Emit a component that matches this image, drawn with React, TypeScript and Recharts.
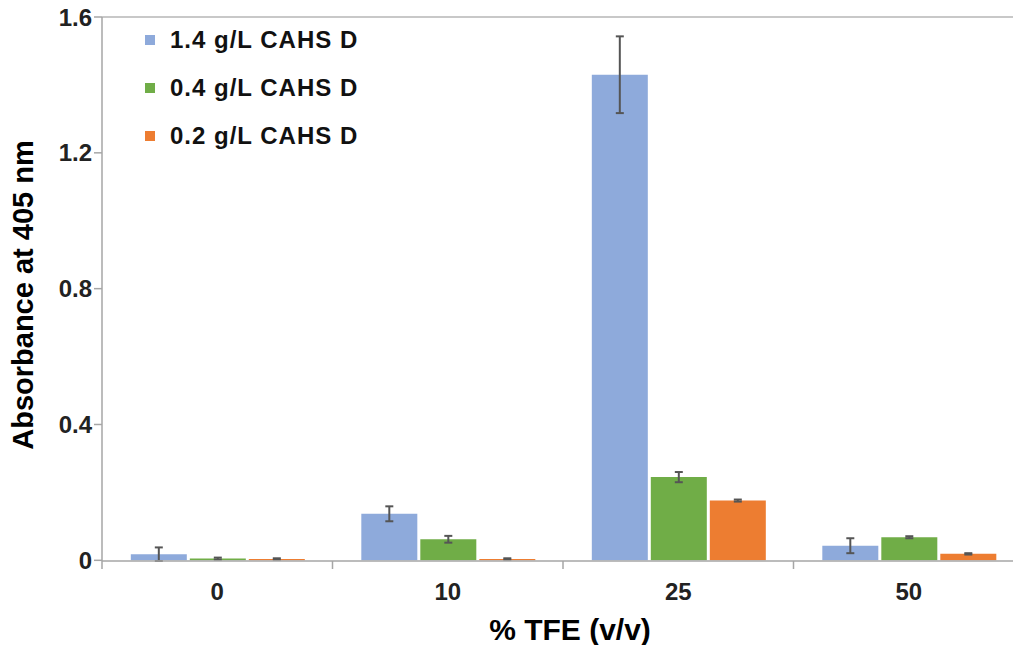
import React from 'react';
import {
  BarChart, Bar, XAxis, YAxis, ErrorBar, ReferenceLine
} from 'recharts';

const categories = ['0', '10', '25', '50'];
const conc14 = [0.018, 0.137, 1.43, 0.043];
const conc14Err = [0.02, 0.022, 0.113, 0.022];
const conc04 = [0.005, 0.062, 0.245, 0.068];
const conc04Err = [0.003, 0.01, 0.015, 0.003];
const conc02 = [0.004, 0.004, 0.176, 0.019];
const conc02Err = [0.002, 0.002, 0.003, 0.002];
const yTicks = [0, 0.4, 0.8, 1.2, 1.6];

const seriesNames = ['1.4 g/L CAHS D', '0.4 g/L CAHS D', '0.2 g/L CAHS D'];
const COLORS = ['#8eaadb', '#70ad47', '#ed7d31'];

const data = categories.map((c, i) => ({
  name: c,
  a: conc14[i], aErr: conc14Err[i],
  b: conc04[i], bErr: conc04Err[i],
  c: conc02[i], cErr: conc02Err[i],
}));

const FONT = '"Liberation Sans", Arial, sans-serif';
const CHART_W = 1026;
const PLOT_LEFT = 102;
const PLOT_RIGHT = 2;
const BAND = (CHART_W - PLOT_LEFT - PLOT_RIGHT) / categories.length;

function XTick(props: any) {
  const { x, y, payload } = props;
  const left = x - BAND / 2;
  return (
    <g>
      <line x1={left} y1={y} x2={left} y2={y + 8} stroke="#a6a6a6" strokeWidth={1.5} />
      <text x={x} y={y + 39} textAnchor="middle" fontFamily={FONT} fontWeight="bold" fontSize={24} fill="#222">
        {payload.value}
      </text>
    </g>
  );
}

function YTitle(props: any) {
  const { viewBox } = props;
  const cy = viewBox.y + viewBox.height / 2 + 6;
  return (
    <text x={33} y={cy} transform={`rotate(-90, 33, ${cy})`} textAnchor="middle"
      fontFamily={FONT} fontWeight="bold" fontSize={29} fill="#000">
      Absorbance at 405 nm
    </text>
  );
}

function XTitle(props: any) {
  const { viewBox } = props;
  return (
    <text x={viewBox.x + viewBox.width / 2 + 7} y={640} textAnchor="middle"
      fontFamily={FONT} fontWeight="bold" fontSize={30} fill="#000">
      % TFE (v/v)
    </text>
  );
}

function LegendBox() {
  return (
    <div style={{ position: 'absolute', left: 145, top: 16, fontFamily: FONT, fontWeight: 'bold', fontSize: 24, color: '#111' }}>
      {seriesNames.map((n, i) => (
        <div key={n} style={{ display: 'flex', alignItems: 'center', height: 48 }}>
          <span style={{ width: 10, height: 10, background: COLORS[i], marginRight: 15, display: 'inline-block' }} />
          <span style={{ letterSpacing: 1 }}>{n}</span>
        </div>
      ))}
    </div>
  );
}

export default function App() {
  return (
    <div style={{ position: 'absolute', left: 0, top: 0, width: 1013, height: 645, overflow: 'hidden', background: '#fff' }}>
      <BarChart
        width={CHART_W}
        height={645}
        data={data}
        margin={{ top: 17, right: PLOT_RIGHT, left: 0, bottom: 0 }}
        barCategoryGap="12.5%"
        barGap={3}
      >
        <ReferenceLine y={1.6} stroke="#c8c8c8" strokeWidth={2} />
        <XAxis
          dataKey="name"
          height={84}
          stroke="#a6a6a6"
          strokeWidth={1.5}
          tickLine={false}
          tickSize={0}
          tickMargin={0}
          tick={<XTick />}
          label={<XTitle />}
        />
        <YAxis
          width={PLOT_LEFT}
          domain={[0, 1.6]}
          ticks={yTicks}
          stroke="#a6a6a6"
          strokeWidth={1.5}
          tickSize={8}
          tickMargin={2}
          tickFormatter={(v: number) => (v === 0 ? '0' : v.toFixed(1))}
          tick={{ fontFamily: FONT, fontWeight: 'bold', fontSize: 24, fill: '#222' }}
          label={<YTitle />}
        />
        <Bar dataKey="a" name={seriesNames[0]} fill={COLORS[0]} isAnimationActive={false}>
          <ErrorBar dataKey="aErr" width={4} stroke="#555" strokeWidth={2} />
        </Bar>
        <Bar dataKey="b" name={seriesNames[1]} fill={COLORS[1]} isAnimationActive={false}>
          <ErrorBar dataKey="bErr" width={4} stroke="#555" strokeWidth={2} />
        </Bar>
        <Bar dataKey="c" name={seriesNames[2]} fill={COLORS[2]} isAnimationActive={false}>
          <ErrorBar dataKey="cErr" width={4} stroke="#555" strokeWidth={2} />
        </Bar>
      </BarChart>
      <LegendBox />
    </div>
  );
}
